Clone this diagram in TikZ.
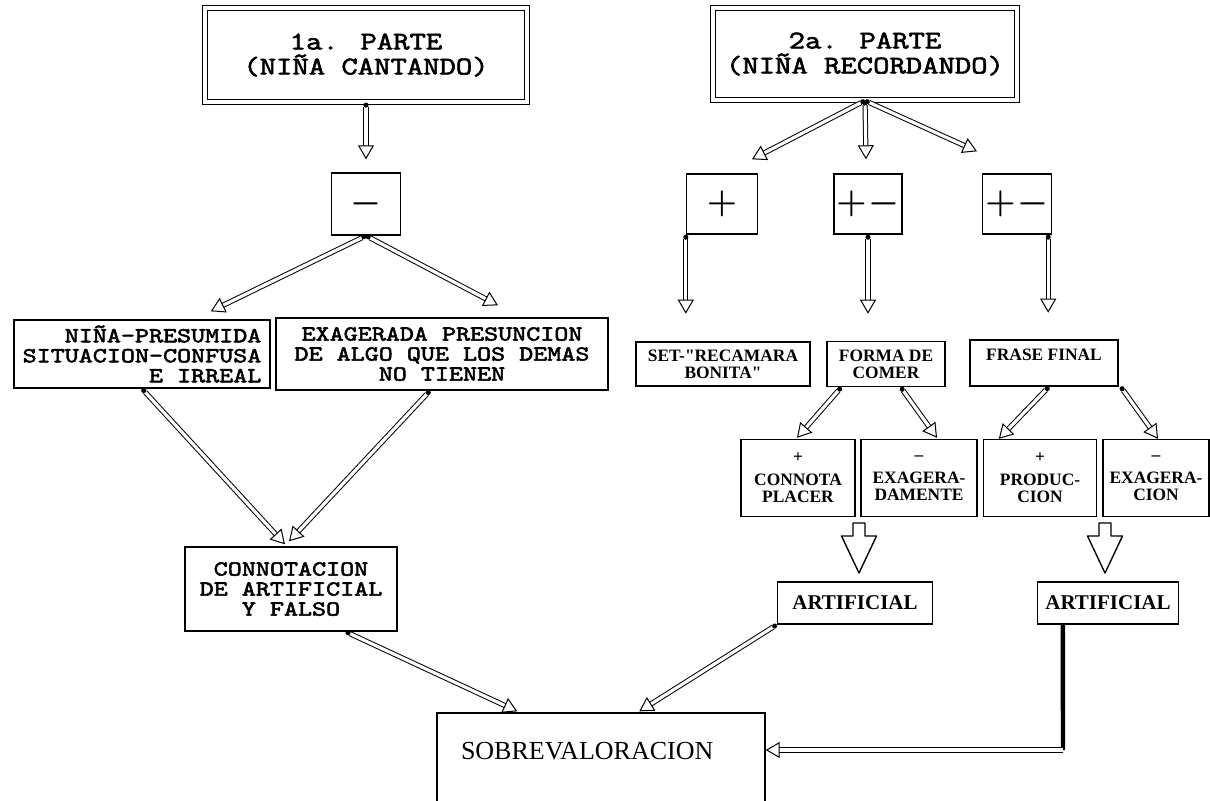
\documentclass[tikz,border=0pt]{standalone}
\usepackage{fontspec}
\setmainfont{Liberation Serif}
\newfontfamily\typew[FakeStretch=1.25,FakeBold=2.5]{Latin Modern Mono}
\usetikzlibrary{arrows.meta,calc}

\begin{document}
\begin{tikzpicture}[x=0.5pt,y=-0.5pt,
  box/.style={draw,line width=0.7pt,inner sep=0pt,align=center},
  dblbox/.style={box,double,double distance=1.8pt,line width=0.6pt},
  dbl/.style={double,double distance=1.6pt,line width=0.5pt,{Circle[length=2.5pt]}-{Triangle[open,length=7pt,width=8pt]}},
  bigarr/.style={draw,line width=0.7pt,line join=round},
  title/.style={font=\typew\fontsize{12.7}{12.5}\selectfont},
  mono/.style={font=\typew\fontsize{10.7}{10}\selectfont},
  signo/.style={font=\boldmath\fontsize{16}{16}\selectfont},
  small/.style={font=\bfseries\fontsize{8.7}{8.5}\selectfont}]
\useasboundingbox (0,0) rectangle (1210,800);

% primera parte
\node[dblbox,title,minimum width=161pt,minimum height=47pt] (parte1) at (366,55) {1a. PARTE\\(NIÑA CANTANDO)};
\node[box,signo,minimum width=34.5pt,minimum height=31pt] (menos) at (366,204) {$-$};
\node[box,mono,align=right,minimum width=128pt,minimum height=34pt] (presumida) at (142,354) {NIÑA-PRESUMIDA\\SITUACION-CONFUSA\\E IRREAL};
\node[box,mono,minimum width=166pt,minimum height=36pt] (presuncion) at (442,354) {EXAGERADA PRESUNCION\\DE ALGO QUE LOS DEMAS\\NO TIENEN};
\node[box,mono,minimum width=106pt,minimum height=42pt] (connot) at (291,589) {CONNOTACION\\DE ARTIFICIAL\\Y FALSO};

% segunda parte
\node[dblbox,title,minimum width=152pt,minimum height=46pt] (parte2) at (865,54) {2a. PARTE\\(NIÑA RECORDANDO)};
\node[box,signo,minimum width=35.5pt,minimum height=30pt] (mas) at (722,204) {$+$};
\node[box,signo,minimum width=34pt,minimum height=30pt] (masmenos1) at (868,204) {$+\mkern1mu-$};
\node[box,signo,minimum width=34.5pt,minimum height=30pt] (masmenos2) at (1017,204) {$+\mkern1mu-$};
\node[box,small,minimum width=87pt,minimum height=22pt] (recamara) at (723,364) {SET-\textquotedbl RECAMARA\\BONITA\textquotedbl};
\node[box,small,minimum width=59pt,minimum height=22.5pt] (comer) at (886,364) {FORMA DE\\COMER};
\node[box,small,minimum width=74pt,minimum height=23pt] (frase) at (1044,363) {FRASE FINAL\\\mbox{}};
\node[box,small,minimum width=57pt,minimum height=38.5pt] (placer) at (798,478) {+\\[3pt]CONNOTA\\PLACER};
\node[box,small,minimum width=58pt,minimum height=38.5pt] (exagdam) at (919,478) {--\\[3pt]EXAGERA-\\DAMENTE};
\node[box,small,minimum width=56.5pt,minimum height=38.5pt] (produc) at (1040,478) {+\\[3pt]PRODUC-\\CION};
\node[box,small,minimum width=53pt,minimum height=38.5pt] (exagcion) at (1156,478) {--\\[3pt]EXAGERA-\\CION};
\node[box,font=\bfseries\fontsize{10.5}{11}\selectfont,minimum width=77.5pt,minimum height=21pt] (artif1) at (855,603) {ARTIFICIAL};
\node[box,font=\bfseries\fontsize{10.5}{11}\selectfont,minimum width=70.5pt,minimum height=21pt] (artif2) at (1108,603) {ARTIFICIAL};

% resultado
\node[box,font=\fontsize{13}{13}\selectfont,align=left,text width=140pt,minimum width=164pt,minimum height=48pt] (sobre) at (601,761) {SOBREVALORACION\\[-3pt]\mbox{}};

\draw[dbl] (parte1.south) -- ($(menos.north)+(0,-13)$);
\draw[dbl] (menos.south) -- ($(presumida.north east)+(-60,-8)$);
\draw[dbl] (menos.south) -- ($(presuncion.north)+(56,-12)$);
\draw[dbl] (presumida.south) -- ($(connot.north)+(-6,-2)$);
\draw[dbl] ($(presuncion.south)+(-12,0)$) -- ($(connot.north)+(-2,-5)$);
\draw[dbl] ($(connot.south east)+(-52,0)$) -- ($(sobre.north west)+(81,-1)$);

\draw[dbl] (parte2.south) -- ($(mas.north)+(30,-14)$);
\draw[dbl] (parte2.south) -- ($(masmenos1.north)+(-2,-14)$);
\draw[dbl] (parte2.south) -- ($(masmenos2.north)+(-40,-22)$);
\draw[dbl] (mas.south west) -- ($(mas.south west)+(0,79)$);
\draw[dbl] (masmenos1.south) -- ($(masmenos1.south)+(0,79)$);
\draw[dbl] ($(masmenos2.south east)+(-4,0)$) -- ($(masmenos2.south east)+(-4,78)$);
\draw[dbl] ($(comer.south west)+(15,0)$) -- ($(placer.north)+(-1,-1)$);
\draw[dbl] ($(comer.south east)+(-45,0)$) -- ($(exagdam.north)+(18,-1)$);
\draw[dbl] ($(frase.south)+(5,0)$) -- ($(produc.north west)+(16,0)$);
\draw[dbl] ($(frase.south east)+(2,0)$) -- ($(exagcion.north)+(2,0)$);
\draw[dbl] (artif1.south west) -- ($(sobre.north west)+(203,-1)$);

% flechas anchas
\coordinate (ancha1) at (859,523);
\coordinate (ancha2) at (1105,523);
\draw[bigarr] ($(ancha1)+(-6,0)$) -- ++(0,13) -- ++(-11.5,0) -- ($(ancha1)+(0,50)$) -- ++(17.5,-37) -- ++(-11.5,0) -- ++(0,-13) -- cycle;
\draw[bigarr] ($(ancha2)+(-6,0)$) -- ++(0,13) -- ++(-11.5,0) -- ($(ancha2)+(0,50)$) -- ++(17.5,-37) -- ++(-11.5,0) -- ++(0,-13) -- cycle;

\coordinate (codo) at (1063,750);
\draw[line width=2.2pt] ($(artif2.south west)+(26,0)$) -- (codo);
\draw[dbl,-{Triangle[open,length=7pt,width=8pt]}] (codo) -- (codo -| sobre.east);
\end{tikzpicture}
\end{document}
